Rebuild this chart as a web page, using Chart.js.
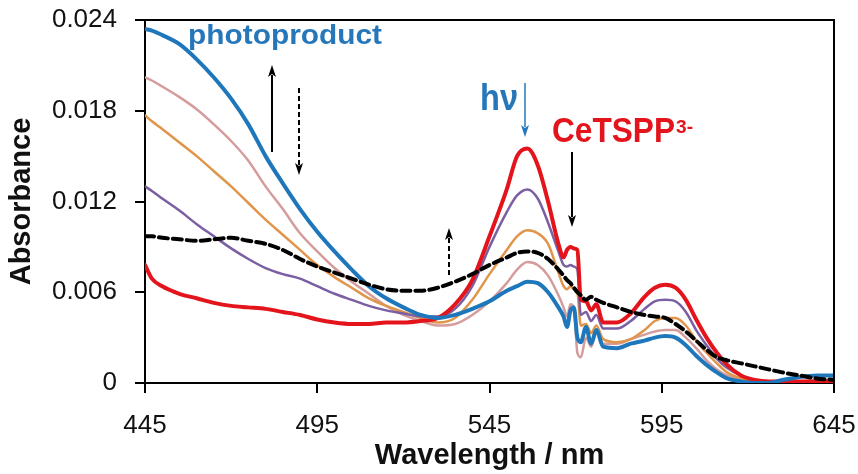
<!DOCTYPE html>
<html>
<head>
<meta charset="utf-8">
<script src="https://cdn.jsdelivr.net/npm/chart.js@4.4.1/dist/chart.umd.min.js"></script>
<style>
html,body{margin:0;padding:0;background:#fff;}
canvas{display:block;}
</style>
</head>
<body>
<canvas id="c" width="858" height="474"></canvas>
<script>
// ---- data ----
const wavelengths = [445,447,450,455,460,465,470,475,480,485,490,495,500,505,510,515,520,525,530,535,540,545,550,553,556,559,562,565,566.5,567.5,568.5,569.5,570.5,571.5,573,574.5,576,578,582,586,590,593,596,599,602,605,608,611,614,618,622,626,630,635,640,645];

const ceTSPP = [0.0078,0.0069,0.0064,0.0059,0.0056,0.0053,0.0051,0.0050,0.0049,0.0047,0.0045,0.0042,0.0040,0.0039,0.0039,0.0040,0.0040,0.0041,0.0043,0.0052,0.0068,0.0097,0.0128,0.0150,0.0155,0.0144,0.0120,0.0092,0.0083,0.0088,0.0090,0.0089,0.0088,0.0055,0.0054,0.0048,0.0052,0.0040,0.0040,0.0046,0.0057,0.0063,0.0065,0.0063,0.0055,0.0042,0.0030,0.0020,0.0012,0.0005,0.0002,0.0001,0.0001,0.0001,0.0001,0.0001];

const step1 = [0.0130,0.0127,0.0122,0.0114,0.0105,0.0097,0.0089,0.0082,0.0076,0.0072,0.0069,0.0064,0.0059,0.0055,0.0051,0.0048,0.0046,0.0044,0.0044,0.0049,0.0064,0.0090,0.0113,0.0124,0.0128,0.0122,0.0106,0.0087,0.0078,0.0077,0.0078,0.0077,0.0075,0.0045,0.0047,0.0041,0.0045,0.0036,0.0036,0.0041,0.0049,0.0054,0.0055,0.0054,0.0047,0.0035,0.0025,0.0016,0.0010,0.0005,0.0002,0.0001,0.0001,0.0001,0.0001,0.0001];

const step2 = [0.0177,0.0173,0.0168,0.0159,0.0150,0.0140,0.0130,0.0119,0.0108,0.0098,0.0088,0.0078,0.0070,0.0063,0.0056,0.0051,0.0047,0.0043,0.0040,0.0043,0.0055,0.0072,0.0088,0.0097,0.0101,0.0099,0.0092,0.0073,0.0064,0.0062,0.0064,0.0062,0.0060,0.0038,0.0039,0.0033,0.0038,0.0029,0.0027,0.0029,0.0035,0.0041,0.0043,0.0043,0.0038,0.0028,0.0020,0.0013,0.0007,0.0003,0.0001,0.0001,0.0001,0.0001,0.0001,0.0001];

const step3 = [0.0202,0.0200,0.0196,0.0189,0.0181,0.0171,0.0160,0.0147,0.0130,0.0115,0.0099,0.0087,0.0076,0.0067,0.0059,0.0051,0.0045,0.0041,0.0038,0.0039,0.0045,0.0054,0.0066,0.0075,0.0080,0.0078,0.0071,0.0058,0.0050,0.0044,0.0052,0.0050,0.0020,0.0017,0.0030,0.0024,0.0033,0.0026,0.0026,0.0029,0.0032,0.0034,0.0035,0.0035,0.0030,0.0023,0.0015,0.0009,0.0005,0.0002,0.0001,0.0001,0.0001,0.0001,0.0002,0.0002];

const photoproduct = [0.0234,0.0233,0.0230,0.0224,0.0214,0.0202,0.0188,0.0171,0.0150,0.0132,0.0115,0.0100,0.0087,0.0075,0.0064,0.0056,0.0050,0.0045,0.0043,0.0045,0.0049,0.0054,0.0061,0.0064,0.0067,0.0066,0.0060,0.0050,0.0044,0.0037,0.0048,0.0050,0.0030,0.0027,0.0037,0.0026,0.0035,0.0024,0.0023,0.0026,0.0028,0.0030,0.0031,0.0030,0.0025,0.0018,0.0012,0.0007,0.0003,0.0001,0.0000,0.0000,0.0002,0.0004,0.0005,0.0005];

const dashedRef = [0.0097,0.0097,0.0096,0.0095,0.0094,0.0095,0.0096,0.0094,0.0092,0.0088,0.0082,0.0077,0.0073,0.0069,0.0065,0.0062,0.0061,0.0061,0.0063,0.0067,0.0072,0.0078,0.0083,0.0086,0.0087,0.0086,0.0082,0.0075,0.0071,0.0068,0.0066,0.0063,0.0060,0.0058,0.0055,0.0057,0.0055,0.0053,0.0050,0.0047,0.0045,0.0044,0.0043,0.0039,0.0034,0.0028,0.0022,0.0017,0.0015,0.0013,0.0011,0.0009,0.0007,0.0005,0.0003,0.0002];

const xTicks = [445,495,545,595,645];
const yTicks = [0,0.006,0.012,0.018,0.024];
const yTickLabels = ['0','0.006','0.012','0.018','0.024'];

// ---- build ----
function pts(vals){ return wavelengths.map((w,i)=>({x:w,y:vals[i]})); }

function ds(label, vals, color, width, order, dash){
  return {label, data: pts(vals), borderColor: color, borderWidth: width, order,
          pointRadius: 0, fill: false, cubicInterpolationMode: 'monotone', borderDash: dash || [],
          borderCapStyle: 'round', borderJoinStyle: 'round'};
}

const datasets = [
  ds('dashed', dashedRef, '#000000', 4, 0, [9,5]),
  ds('photoproduct', photoproduct, '#1f77bb', 4, 1),
  ds('CeTSPP', ceTSPP, '#e3141b', 4, 2),
  ds('step1', step1, '#7b5fa3', 2.5, 3),
  ds('step2', step2, '#e0954a', 2.5, 4),
  ds('step3', step3, '#d49c9c', 2.5, 5),
];

function fitText(ctx, text, x, y, w, font, color){
  ctx.save();
  ctx.font = font;
  const m = ctx.measureText(text).width;
  ctx.translate(x, y);
  ctx.scale(w / m, 1);
  ctx.fillStyle = color;
  ctx.textBaseline = 'alphabetic';
  ctx.textAlign = 'left';
  ctx.fillText(text, 0, 0);
  ctx.restore();
}

function arrow(ctx, x, y1, y2, color, width, dash, headUp){
  ctx.save();
  ctx.strokeStyle = color; ctx.fillStyle = color; ctx.lineWidth = width;
  ctx.setLineDash(dash || []);
  const tip = headUp ? y1 : y2;
  const hl = 12, hw = 4;
  ctx.beginPath();
  if (headUp) { ctx.moveTo(x, y2); ctx.lineTo(x, y1 + hl - 2); }
  else { ctx.moveTo(x, y1); ctx.lineTo(x, y2 - hl + 2); }
  ctx.stroke();
  ctx.setLineDash([]);
  ctx.beginPath();
  const d = headUp ? 1 : -1;
  ctx.moveTo(x, tip);
  ctx.lineTo(x - hw, tip + d*hl);
  ctx.lineTo(x, tip + d*(hl-3));
  ctx.lineTo(x + hw, tip + d*hl);
  ctx.closePath();
  ctx.fill();
  ctx.restore();
}

const decor = {
  id: 'decor',
  afterDatasetsDraw(chart){
    const ctx = chart.ctx, a = chart.chartArea;
    ctx.save();
    ctx.strokeStyle = '#000'; ctx.lineWidth = 2;
    ctx.beginPath();
    ctx.moveTo(a.left, a.top); ctx.lineTo(a.right, a.top); ctx.lineTo(a.right, a.bottom);
    ctx.stroke();
    ctx.restore();

    fitText(ctx, 'photoproduct', 188, 44, 194, 'bold 27px "Liberation Sans", Arial, sans-serif', '#2577ba');
    fitText(ctx, 'h\u03BD', 480, 110, 38, 'bold 36px "Liberation Sans", Arial, sans-serif', '#2577ba');
    fitText(ctx, 'CeTSPP', 552, 142, 123, 'bold 35px "Liberation Sans", Arial, sans-serif', '#e3141b');
    fitText(ctx, '3-', 676, 133, 17, 'bold 18px "Liberation Sans", Arial, sans-serif', '#e3141b');

    arrow(ctx, 272, 65, 152, '#000', 2, null, true);
    arrow(ctx, 299, 88, 175, '#000', 2, [5,3], false);
    arrow(ctx, 525, 83, 137, '#2577ba', 1.5, null, false);
    arrow(ctx, 572, 152, 227, '#000', 2, null, false);
    arrow(ctx, 449, 228, 275, '#000', 2, [5,3], true);
  }
};

const tickFont = {family: '"Liberation Sans", Arial, sans-serif', size: 26};
const titleFont = {family: '"Liberation Sans", Arial, sans-serif', size: 29, weight: 'bold'};

function zeroPad(s){ s.paddingTop = 0; s.paddingBottom = 0; s.paddingLeft = 0; s.paddingRight = 0; }

new Chart(document.getElementById('c'), {
  type: 'line',
  data: { datasets },
  plugins: [decor],
  options: {
    responsive: false,
    animation: false,
    devicePixelRatio: 1,
    layout: { padding: { top: 20, right: 24, left: 0, bottom: 0 } },
    plugins: { legend: { display: false }, tooltip: { enabled: false } },
    scales: {
      x: {
        type: 'linear', min: 445, max: 645,
        afterBuildTicks: s => { s.ticks = xTicks.map(v => ({value: v})); },
        afterFit: s => { s.height = 91; zeroPad(s); },
        ticks: { font: tickFont, color: '#111', padding: 17, maxRotation: 0, autoSkip: false,
                 callback: v => String(v) },
        grid: { display: true, drawOnChartArea: false, drawTicks: true, tickLength: 10, color: '#000', lineWidth: 2 },
        border: { display: true, color: '#000', width: 2 },
        title: { display: true, text: 'Wavelength / nm', font: titleFont, color: '#111', padding: { top: 0, bottom: 1 } }
      },
      y: {
        type: 'linear', min: 0, max: 0.024,
        afterBuildTicks: s => { s.ticks = yTicks.map(v => ({value: v})); },
        afterFit: s => { s.width = 145; zeroPad(s); },
        ticks: { font: tickFont, color: '#111', padding: 18, autoSkip: false,
                 callback: (v, i) => yTickLabels[yTicks.indexOf(v)] ?? yTickLabels[i] },
        grid: { display: true, drawOnChartArea: false, drawTicks: true, tickLength: 10, color: '#000', lineWidth: 2 },
        border: { display: true, color: '#000', width: 2 },
        title: { display: true, text: 'Absorbance', font: titleFont, color: '#111', padding: { top: 5, bottom: 0 } }
      }
    }
  }
});
</script>
</body>
</html>
